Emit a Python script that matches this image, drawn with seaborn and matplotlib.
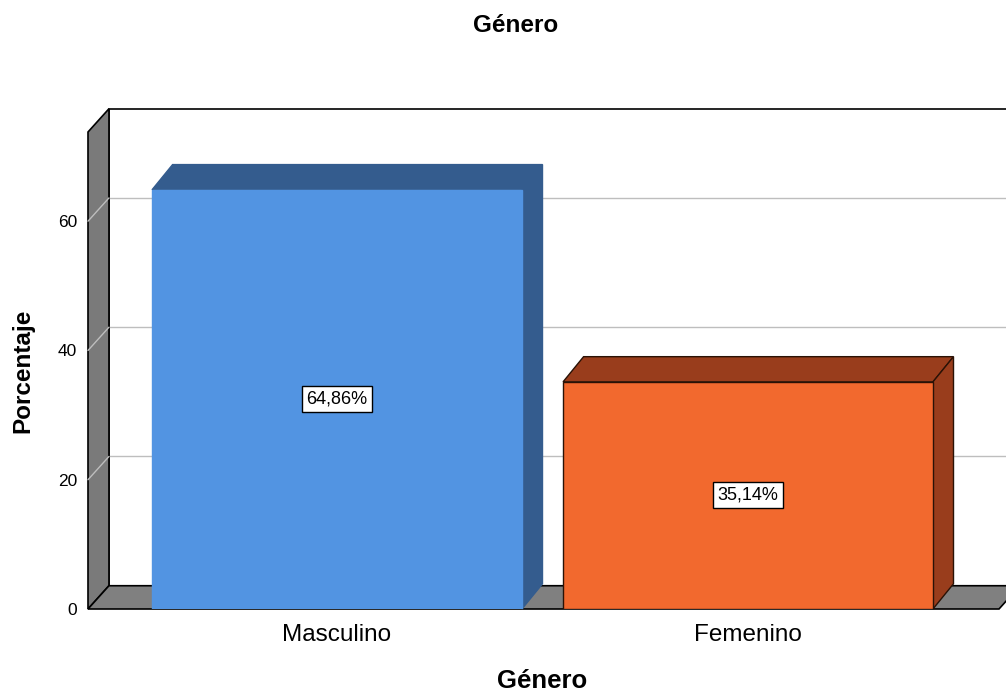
import matplotlib
matplotlib.use("Agg")
import matplotlib.pyplot as plt
from matplotlib.patches import Polygon
import seaborn as sns
import pandas as pd

# data
categories = ["Masculino", "Femenino"]
percents = [64.86, 35.14]
y_ticks = [0, 20, 40, 60]

# colours (front face, top/side face, outline)
front_colors = ["#5294E2", "#F2692E"]
dark_colors = ["#345C8E", "#993D1C"]
edge_colors = ["#5294E2", "#2A1206"]
wall_color = "#7A7A7A"
grid_color = "#BEBEBE"

sns.set_style("white")
plt.rcParams['font.family'] = ['Liberation Sans', 'DejaVu Sans']
plt.rcParams['text.color'] = 'black'
plt.rcParams['xtick.color'] = 'black'
plt.rcParams['ytick.color'] = 'black'

W, H = 1006, 691
fig = plt.figure(figsize=(W / 100, H / 100), dpi=100)

# front plane of the 3D box, in pixels
left_px, right_px, bottom_px, top_px = 88, 999, 609, 132
ax = fig.add_axes([left_px / W, 1 - bottom_px / H,
                   (right_px - left_px) / W, (bottom_px - top_px) / H])

df = pd.DataFrame({"Género": categories, "Porcentaje": percents})
sns.barplot(data=df, x="Género", y="Porcentaje", hue="Género",
            palette=front_colors, saturation=1, width=0.9, legend=False,
            ax=ax, zorder=5, linewidth=1.0)

xl, xr = -0.6058, 1.6107
yt = 73.8
ax.set_xlim(xl, xr)
ax.set_ylim(0, yt)

# depth of the box and of the bars (data units)
dx, dy = 0.051, 3.6
bdx, bdy = 0.05, 3.9

# back wall + grid
back = Polygon([(xl + dx, dy), (xl + dx, yt + dy), (xr + dx + 0.2, yt + dy),
                (xr + dx + 0.2, dy)], closed=True, fc="white", ec="black",
               lw=1.2, zorder=1, clip_on=False)
ax.add_patch(back)
for t in y_ticks[1:]:
    ax.plot([xl + dx, xr + dx + 0.2], [t + dy, t + dy], color=grid_color,
            lw=1, zorder=1.5, clip_on=False)

# left wall
lwall = Polygon([(xl, 0), (xl + dx, dy), (xl + dx, yt + dy), (xl, yt)],
                closed=True, fc=wall_color, ec="black", lw=1.2, zorder=2,
                clip_on=False)
ax.add_patch(lwall)
for t in y_ticks[1:]:
    ax.plot([xl, xl + dx], [t, t + dy], color=grid_color, lw=1, zorder=2.5,
            clip_on=False)

# floor
floor = Polygon([(xl, 0), (xl + dx, dy), (xr + dx, dy), (xr, 0)],
                closed=True, fc="#808080", ec="black", lw=1.2, zorder=3,
                clip_on=False)
ax.add_patch(floor)

# 3D tops and sides of the bars + value labels
for i, (patch, dark, edge) in enumerate(zip(ax.patches[:len(categories)],
                                            dark_colors, edge_colors)):
    x0 = patch.get_x()
    w = patch.get_width()
    h = patch.get_height()
    patch.set_edgecolor(edge)
    top_edge = dark if i == 0 else edge
    top = Polygon([(x0, h), (x0 + bdx, h + bdy), (x0 + w + bdx, h + bdy),
                   (x0 + w, h)], closed=True, fc=dark, ec=top_edge, lw=1.0,
                  zorder=5 + i, clip_on=False)
    side = Polygon([(x0 + w, 0), (x0 + w + bdx, bdy), (x0 + w + bdx, h + bdy),
                    (x0 + w, h)], closed=True, fc=dark, ec=top_edge, lw=1.0,
                   zorder=5 + i, clip_on=False)
    ax.add_patch(top)
    ax.add_patch(side)
    patch.set_zorder(5.5 + i)
    label = f"{percents[i]:.2f}%".replace(".", ",")
    ax.text(x0 + w / 2, h / 2, label, ha="center", va="center", fontsize=13,
            zorder=10, bbox=dict(boxstyle="square,pad=0.25", fc="white",
                                 ec="black", lw=1))

ax.set_yticks(y_ticks)
ax.tick_params(axis="y", length=0, pad=8, labelsize=12.5)
ax.tick_params(axis="x", length=0, pad=11, labelsize=17.5)
for s in ax.spines.values():
    s.set_visible(False)
ax.patch.set_visible(False)
ax.set_xlabel("")
ax.set_ylabel("")

fig.text(516 / W, 1 - 25 / H, "Género", ha="center", va="center",
         fontsize=17.5, weight="bold")
fig.text(542 / W, 1 - 681 / H, "Género", ha="center", va="center",
         fontsize=18.5, weight="bold")
fig.text(23 / W, 1 - 371 / H, "Porcentaje", ha="center", va="center",
         rotation=90, fontsize=17.5, weight="bold")

fig.savefig("out.png", dpi=100)
